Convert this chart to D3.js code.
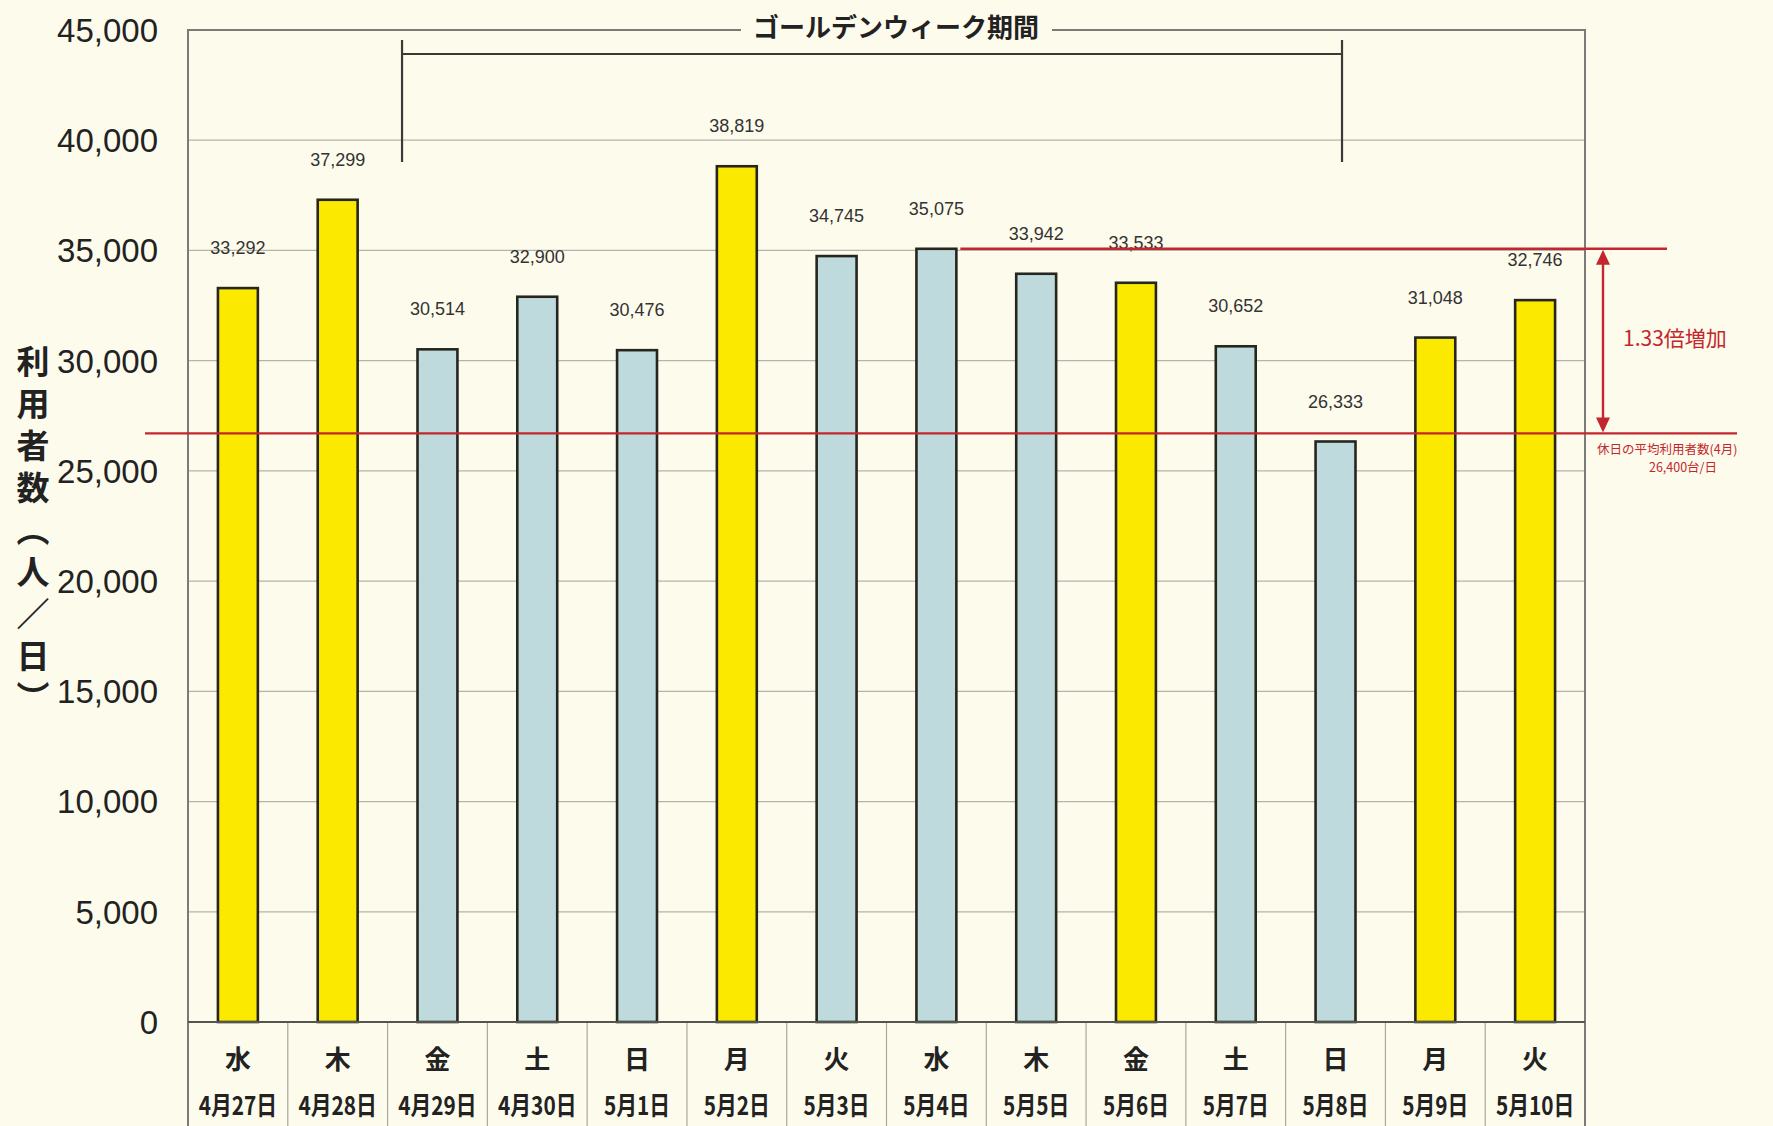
<!DOCTYPE html>
<html>
<head>
<meta charset="utf-8">
<script src="https://cdn.jsdelivr.net/npm/d3@7"></script>
<style>
  body { margin: 0; background: #fdfbec; }
  svg { display: block; }
</style>
</head>
<body>
<script>
// dates, weekdays and daily users
const dates = ["4月27日", "4月28日", "4月29日", "4月30日", "5月1日", "5月2日", "5月3日",
  "5月4日", "5月5日", "5月6日", "5月7日", "5月8日", "5月9日", "5月10日"];
const weekdays = ["水", "木", "金", "土", "日", "月", "火", "水", "木", "金", "土", "日", "月", "火"];
const users = [33292, 37299, 30514, 32900, 30476, 38819, 34745, 35075, 33942, 33533, 30652, 26333, 31048, 32746];
// holiday = light blue bar, weekday = yellow bar
const holiday = [false, false, true, true, true, false, true, true, true, false, true, true, false, false];
const yTicks = [0, 5000, 10000, 15000, 20000, 25000, 30000, 35000, 40000, 45000];

const gwStart = "4月29日";
const gwEnd = "5月8日";
const peakValue = 35075;     // upper red line
const avgLineValue = 26700;  // where the average line sits in the picture
const ratioText = "1.33倍増加";
const avgText1 = "休日の平均利用者数(4月)";
const avgText2 = "26,400台/日";

const W = 1773, H = 1126;
const plotLeft = 188, plotRight = 1585, plotTop = 30, zeroY = 1022;

const svg = d3.select("body").append("svg")
  .attr("width", W)
  .attr("height", H);

svg.append("rect").attr("width", W).attr("height", H).attr("fill", "#fdfbec");

const x = d3.scaleBand().domain(dates).range([plotLeft, plotRight]).padding(0);
const y = d3.scaleLinear().domain([0, 45000]).range([zeroY, plotTop]);
const bw = x.bandwidth();
const red = "#c3272e";

// gridlines
svg.append("g")
  .selectAll("line")
  .data(yTicks.filter(d => d > 0))
  .join("line")
  .attr("x1", plotLeft).attr("x2", plotRight)
  .attr("y1", d => y(d)).attr("y2", d => y(d))
  .attr("stroke", "#b4b4ac")
  .attr("stroke-width", 1.2);

// frame
svg.append("rect")
  .attr("x", plotLeft).attr("y", plotTop)
  .attr("width", plotRight - plotLeft).attr("height", zeroY - plotTop)
  .attr("fill", "none")
  .attr("stroke", "#7a7a76")
  .attr("stroke-width", 2);

// category separators below the axis
svg.append("g")
  .selectAll("line")
  .data(dates.concat(["end"]))
  .join("line")
  .attr("x1", (d, i) => plotLeft + i * bw).attr("x2", (d, i) => plotLeft + i * bw)
  .attr("y1", zeroY).attr("y2", H)
  .attr("stroke", (d, i) => (i === 0 || i === dates.length) ? "#7a7a76" : "#a8a8a2")
  .attr("stroke-width", (d, i) => (i === 0 || i === dates.length) ? 2 : 1.2);

// y axis tick labels
svg.append("g")
  .selectAll("text")
  .data(yTicks)
  .join("text")
  .attr("x", 158)
  .attr("y", d => y(d))
  .attr("dy", "0.36em")
  .attr("text-anchor", "end")
  .attr("font-family", "'Liberation Sans', Arial, sans-serif")
  .attr("font-size", 33)
  .attr("fill", "#222")
  .text(d => d3.format(",")(d));

// y axis title (vertical)
svg.append("text")
  .attr("x", 33)
  .attr("y", 345)
  .attr("font-family", "'Noto Sans CJK JP', sans-serif")
  .attr("font-weight", 700)
  .attr("font-size", 33)
  .attr("letter-spacing", 9)
  .attr("fill", "#222")
  .style("writing-mode", "vertical-rl")
  .text("利用者数（人／日）");

// bars
const barW = bw * 0.4;
svg.append("g")
  .selectAll("rect")
  .data(users)
  .join("rect")
  .attr("x", (d, i) => x(dates[i]) + (bw - barW) / 2)
  .attr("y", d => y(d))
  .attr("width", barW)
  .attr("height", d => zeroY - y(d))
  .attr("fill", (d, i) => holiday[i] ? "#bfdadd" : "#fbe900")
  .attr("stroke", "#26261f")
  .attr("stroke-width", 2.6);

// zero line
svg.append("line")
  .attr("x1", plotLeft).attr("x2", plotRight)
  .attr("y1", zeroY).attr("y2", zeroY)
  .attr("stroke", "#55554f")
  .attr("stroke-width", 2.2);

// value labels
svg.append("g")
  .selectAll("text")
  .data(users)
  .join("text")
  .attr("x", (d, i) => x(dates[i]) + bw / 2)
  .attr("y", d => y(d) - 34)
  .attr("text-anchor", "middle")
  .attr("font-family", "'Liberation Sans', Arial, sans-serif")
  .attr("font-size", 18)
  .attr("fill", "#333")
  .text(d => d3.format(",")(d));

// weekday and date labels
svg.append("g")
  .selectAll("text")
  .data(weekdays)
  .join("text")
  .attr("x", (d, i) => x(dates[i]) + bw / 2)
  .attr("y", 1060)
  .attr("dy", "0.36em")
  .attr("text-anchor", "middle")
  .attr("font-family", "'Noto Sans CJK JP', sans-serif")
  .attr("font-weight", 700)
  .attr("font-size", 26)
  .attr("fill", "#222")
  .text(d => d);

svg.append("g")
  .selectAll("text")
  .data(dates)
  .join("text")
  .attr("transform", d => `translate(${x(d) + bw / 2},1106) scale(0.8,1)`)
  .attr("dy", "0.36em")
  .attr("text-anchor", "middle")
  .attr("font-family", "'Noto Sans CJK JP', sans-serif")
  .attr("font-weight", 700)
  .attr("font-size", 26)
  .attr("fill", "#222")
  .text(d => d);

// golden week bracket
const bx1 = x(gwStart) + bw * 0.145;
const bx2 = x(gwEnd) + bw * 0.565;
const bracket = svg.append("g").attr("stroke", "#3a3a36").attr("stroke-width", 2.2);
bracket.append("line").attr("x1", bx1).attr("x2", bx2).attr("y1", 54).attr("y2", 54);
bracket.append("line").attr("x1", bx1).attr("x2", bx1).attr("y1", 40).attr("y2", 162);
bracket.append("line").attr("x1", bx2).attr("x2", bx2).attr("y1", 40).attr("y2", 162);

svg.append("rect")
  .attr("x", 741).attr("y", 14)
  .attr("width", 311).attr("height", 28)
  .attr("fill", "#fdfbec");
svg.append("text")
  .attr("x", 896)
  .attr("y", 28)
  .attr("dy", "0.36em")
  .attr("text-anchor", "middle")
  .attr("font-family", "'Noto Sans CJK JP', sans-serif")
  .attr("font-weight", 700)
  .attr("font-size", 26)
  .attr("fill", "#222")
  .text("ゴールデンウィーク期間");

// red reference lines
const peakIdx = users.indexOf(peakValue);
svg.append("line")
  .attr("x1", x(dates[peakIdx]) + (bw + barW) / 2 + 4).attr("x2", 1667)
  .attr("y1", y(peakValue)).attr("y2", y(peakValue))
  .attr("stroke", red).attr("stroke-width", 2.4);
svg.append("line")
  .attr("x1", 145).attr("x2", 1737)
  .attr("y1", y(avgLineValue)).attr("y2", y(avgLineValue))
  .attr("stroke", red).attr("stroke-width", 2.4);

// double arrow
const ax = 1603;
svg.append("line")
  .attr("x1", ax).attr("x2", ax)
  .attr("y1", y(peakValue) + 12).attr("y2", y(avgLineValue) - 12)
  .attr("stroke", red).attr("stroke-width", 2.4);
svg.append("path")
  .attr("d", `M${ax},${y(peakValue) + 1} l-7,15 l14,0 Z M${ax},${y(avgLineValue) - 1} l-7,-15 l14,0 Z`)
  .attr("fill", red);

svg.append("text")
  .attr("x", 1623)
  .attr("y", 338)
  .attr("dy", "0.36em")
  .attr("font-family", "'Noto Sans CJK JP', sans-serif")
  .attr("font-size", 21)
  .attr("fill", red)
  .text(ratioText);

svg.append("text")
  .attr("x", 1597)
  .attr("y", 449)
  .attr("dy", "0.36em")
  .attr("font-family", "'Noto Sans CJK JP', sans-serif")
  .attr("font-size", 12.5)
  .attr("fill", red)
  .text(avgText1);
svg.append("text")
  .attr("x", 1683)
  .attr("y", 467)
  .attr("dy", "0.36em")
  .attr("text-anchor", "middle")
  .attr("font-family", "'Noto Sans CJK JP', sans-serif")
  .attr("font-size", 12.5)
  .attr("fill", red)
  .text(avgText2);
</script>
</body>
</html>
